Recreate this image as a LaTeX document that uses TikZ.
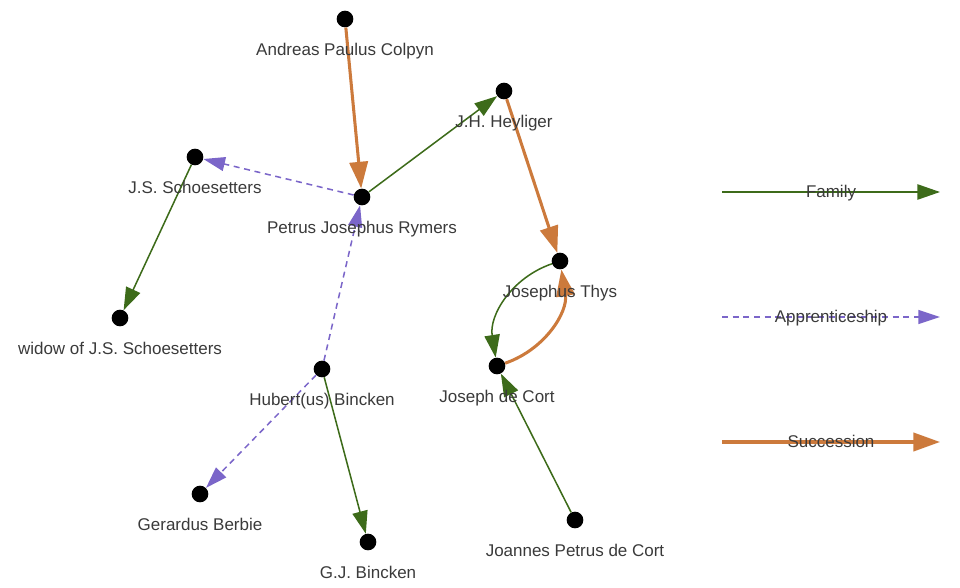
\documentclass[tikz,border=0pt]{standalone}
\usepackage{fontspec}
\setmainfont{Liberation Sans}
\usepackage{tikz}
\usetikzlibrary{arrows.meta}

\definecolor{famgreen}{HTML}{3D6B1A}
\definecolor{apppurple}{HTML}{7B66C9}
\definecolor{sucorange}{HTML}{CC7A3C}
\definecolor{txtgray}{HTML}{3A3A3A}

\begin{document}
\begin{tikzpicture}[x=0.03cm,y=0.03cm,
  dot/.style={circle,fill=black,minimum size=0.5cm,inner sep=0},
  lbl/.style={anchor=base,text=txtgray,inner sep=0,font=\fontsize{14.5}{17}\selectfont},
  family/.style={draw=famgreen,line width=1.3pt,-{Triangle[length=0.68cm,width=0.46cm]},famgreen},
  apprentice/.style={draw=apppurple,line width=1.3pt,dash pattern=on 0.18cm off 0.14cm,-{Triangle[length=0.65cm,width=0.42cm]},apppurple},
  succession/.style={draw=sucorange,line width=2.6pt,-{Triangle[length=0.8cm,width=0.55cm]},sucorange}]

\useasboundingbox (0,0) rectangle (960,-587);

% people
\node[dot] (colpyn) at (345,-19) {};
\node[dot] (heyliger) at (504,-91) {};
\node[dot] (schoesetters) at (195,-157) {};
\node[dot] (rymers) at (362,-197) {};
\node[dot] (thys) at (560,-261) {};
\node[dot] (widow) at (120,-318) {};
\node[dot] (decort) at (497,-366) {};
\node[dot] (hbincken) at (322,-369) {};
\node[dot] (berbie) at (200,-494) {};
\node[dot] (gjbincken) at (368,-542) {};
\node[dot] (jpdecort) at (575,-520) {};

% relations
\draw[succession] (colpyn) -- (rymers);
\draw[family] (rymers) -- (heyliger);
\draw[apprentice] (rymers) -- (schoesetters);
\draw[family] (schoesetters) -- (widow);
\draw[apprentice] (hbincken) -- (rymers);
\draw[apprentice] (hbincken) -- (berbie);
\draw[family] (hbincken) -- (gjbincken);
\draw[succession] (heyliger) -- (thys);
\draw[family] (thys) to[bend right=40] (decort);
\draw[succession] (decort) to[bend right=40] (thys);
\draw[family] (jpdecort) -- (decort);

% names
\node[lbl] (colpyn-t) at (345,-55) {Andreas Paulus Colpyn};
\node[lbl] (heyliger-t) at (504,-127) {J.H. Heyliger};
\node[lbl] (schoesetters-t) at (195,-193) {J.S. Schoesetters};
\node[lbl] (rymers-t) at (362,-233) {Petrus Josephus Rymers};
\node[lbl] (thys-t) at (560,-297) {Josephus Thys};
\node[lbl] (widow-t) at (120,-354) {widow of J.S. Schoesetters};
\node[lbl] (decort-t) at (497,-402) {Joseph de Cort};
\node[lbl] (hbincken-t) at (322,-405) {Hubert(us) Bincken};
\node[lbl] (berbie-t) at (200,-530) {Gerardus Berbie};
\node[lbl] (gjbincken-t) at (368,-578) {G.J. Bincken};
\node[lbl] (jpdecort-t) at (575,-556) {Joannes Petrus de Cort};

% legend
\coordinate (fam-a) at (722,-192);
\coordinate (fam-b) at (940,-192);
\coordinate (app-a) at (722,-317);
\coordinate (app-b) at (940,-317);
\coordinate (suc-a) at (722,-442);
\coordinate (suc-b) at (940,-442);
\draw[family] (fam-a) -- (fam-b);
\draw[apprentice] (app-a) -- (app-b);
\draw[succession] (suc-a) -- (suc-b);
\node[lbl] (fam-t) at (831,-197) {Family};
\node[lbl] (app-t) at (831,-322) {Apprenticeship};
\node[lbl] (suc-t) at (831,-447) {Succession};
\end{tikzpicture}
\end{document}
